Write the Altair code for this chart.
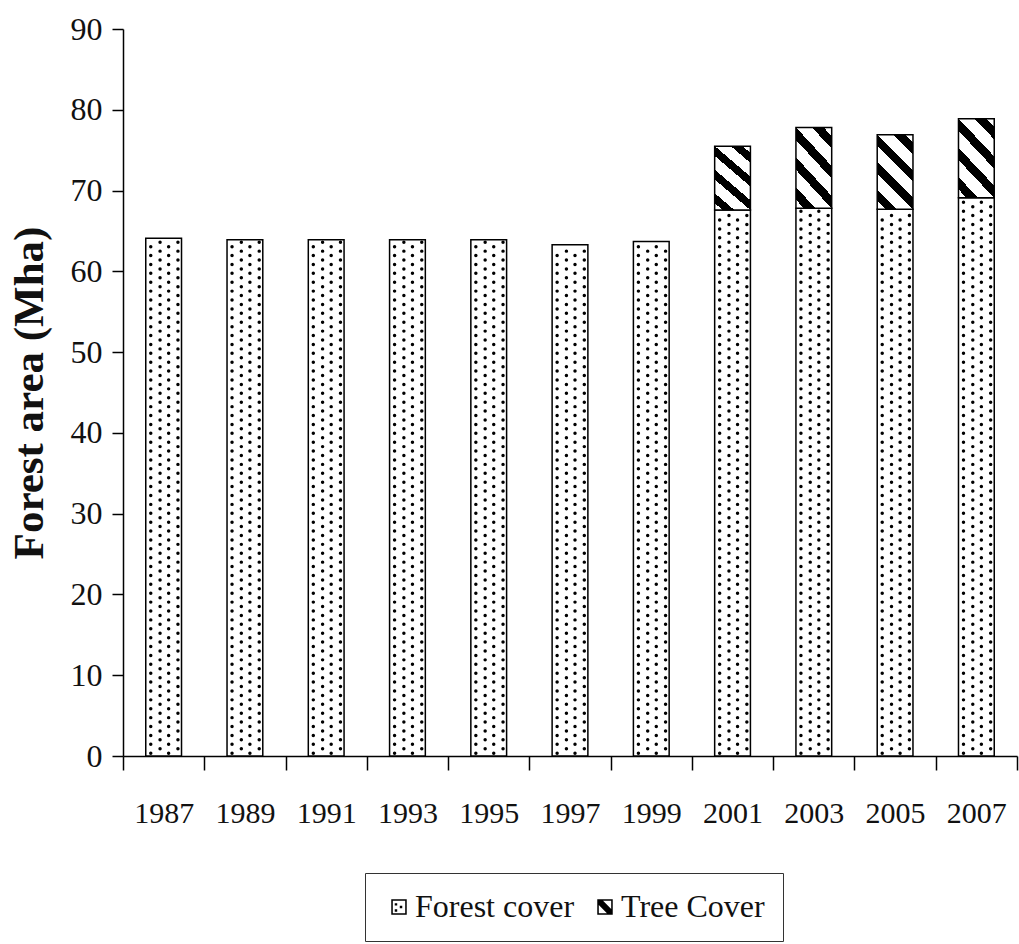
import altair as alt
import pandas as pd

# Forest area of India by assessment year (Mha)
years = ["1987", "1989", "1991", "1993", "1995", "1997", "1999", "2001", "2003", "2005", "2007"]
forest_cover = [64.1, 63.9, 63.9, 63.9, 63.9, 63.3, 63.7, 67.6, 67.8, 67.7, 69.1]
tree_cover = [0, 0, 0, 0, 0, 0, 0, 7.9, 10.0, 9.2, 9.8]
series_names = ["Forest cover", "Tree Cover"]
y_ticks = [0, 10, 20, 30, 40, 50, 60, 70, 80, 90]

W, H = 894, 727
BAR_FRAC = 0.44          # bar width as a fraction of the year slot
FONT = "Liberation Serif"
INK = "#111"

bars = pd.DataFrame({"year": years, "forest": forest_cover, "tree": tree_cover})
bars["total"] = bars["forest"] + bars["tree"]
tree_bars = bars[bars["tree"] > 0]

# Stipple texture for the forest-cover bars: staggered rows of small dots,
# placed on a slot-index axis (slot i spans i-0.5 .. i+0.5)
DOT_STEP = 0.55
cols_even = [-0.36, 0.14]
cols_odd = [-0.10, 0.40]
dot_rows = []
for i, f in enumerate(forest_cover):
    k = 0
    while 0.35 + DOT_STEP * k < f - 0.25:
        yv = 0.35 + DOT_STEP * k
        for c in (cols_even if k % 2 == 0 else cols_odd):
            dot_rows.append({"slot": i + c * BAR_FRAC, "y": yv})
        k += 1
dots = pd.DataFrame(dot_rows)

# Diagonal hatching for the tree-cover segments
n_stripes = 4
stops = [alt.GradientStop(offset=0, color="white")]
for i in range(n_stripes):
    a = (i + 0.29) / n_stripes
    b = (i + 0.71) / n_stripes
    stops += [
        alt.GradientStop(offset=a, color="white"),
        alt.GradientStop(offset=a, color="black"),
        alt.GradientStop(offset=b, color="black"),
        alt.GradientStop(offset=b, color="white"),
    ]
stops.append(alt.GradientStop(offset=1, color="white"))
hatch = alt.LinearGradient(gradient="linear", stops=stops, x1=0, y1=1, x2=0.577, y2=-0.203)

# Legend symbols: framed square with dots / with a diagonal band
sym_dots = ("M-1,-1H1V1H-1Z M-0.8,-0.8V0.8H0.8V-0.8Z "
            "M-0.55,-0.5h0.32v0.32h-0.32Z M0.1,-0.16h0.32v0.32h-0.32Z M-0.55,0.3h0.32v0.32h-0.32Z")
sym_hatch = ("M-1,-1H1V1H-1Z M-0.8,-0.8V0.8H0.8V-0.8Z "
             "M-0.8,-0.8L-0.25,-0.8L0.8,0.25L0.8,0.8L0.25,0.8L-0.8,-0.25Z")

x_scale = alt.Scale(domain=years, paddingInner=0, paddingOuter=0)
x_axis = alt.Axis(
    title=None, labelAngle=0, tickBand="extent", tickSize=14, labelPadding=28,
    labelFont=FONT, labelFontSize=30, labelColor=INK,
    domainColor="black", tickColor="black", domainWidth=1.5, tickWidth=1.5,
)
y_scale = alt.Scale(domain=[0, 90], nice=False)
y_axis = alt.Axis(
    title="Forest area (Mha)", values=y_ticks, grid=False, tickSize=11, labelPadding=10,
    labelFont=FONT, labelFontSize=32, labelColor=INK,
    titleFont=FONT, titleFontSize=43, titleFontWeight="bold", titleColor=INK, titlePadding=19,
    domainColor="black", tickColor="black", domainWidth=1.5, tickWidth=1.5,
)

bar_width = alt.RelativeBandSize(BAR_FRAC)

forest_layer = alt.Chart(bars).mark_bar(
    fill="white", stroke="black", strokeWidth=1.5, width=bar_width
).encode(
    x=alt.X("year:N", scale=x_scale, axis=x_axis),
    y=alt.Y("forest:Q", scale=y_scale, axis=y_axis),
)

tree_layer = alt.Chart(tree_bars).mark_bar(
    fill=hatch, stroke="black", strokeWidth=1.5, width=bar_width
).encode(
    x=alt.X("year:N", scale=x_scale, axis=None),
    y=alt.Y("total:Q", scale=y_scale, axis=y_axis),
    y2="forest:Q",
)

dot_layer = alt.Chart(dots).mark_point(filled=True, color="black", size=12, opacity=1, shape="circle").encode(
    x=alt.X("slot:Q", scale=alt.Scale(domain=[-0.5, len(years) - 0.5], nice=False, zero=False), axis=None),
    y=alt.Y("y:Q", scale=y_scale, axis=y_axis),
)

legend_layer = alt.Chart(pd.DataFrame({"series": series_names})).mark_point(
    filled=True, color="black", opacity=0
).encode(
    x=alt.value(0),
    y=alt.value(0),
    shape=alt.Shape(
        "series:N",
        scale=alt.Scale(domain=series_names, range=[sym_dots, sym_hatch]),
        legend=alt.Legend(
            title=None, orient="none", legendX=242, legendY=844, direction="horizontal",
            symbolSize=240, symbolFillColor="black", symbolStrokeWidth=0, symbolOpacity=1,
            labelFont=FONT, labelFontSize=32, labelColor=INK, labelOffset=0,
            columnPadding=14, padding=18, strokeColor="#333",
        ),
    ),
)

chart = alt.layer(forest_layer, tree_layer, dot_layer, legend_layer).resolve_scale(
    x="independent"
).properties(
    width=W,
    height=H,
    padding={"left": 123, "top": 29, "right": 2, "bottom": 188},
    autosize=alt.AutoSizeParams(type="none"),
).configure(font=FONT).configure_view(strokeWidth=0)

chart.save("out.html", embed_options={"renderer": "svg", "actions": False})
